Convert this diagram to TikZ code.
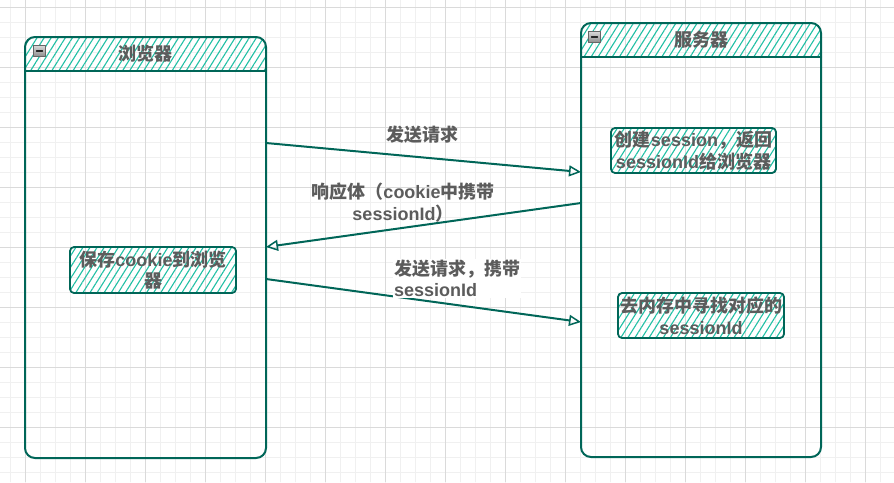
\documentclass[tikz,border=0pt]{standalone}
\usepackage{fontspec}
\setmainfont{Liberation Sans}
\newfontfamily\cjk{Noto Sans CJK SC}
\usetikzlibrary{arrows.meta,patterns.meta}
\definecolor{laneStroke}{HTML}{006658}
\definecolor{laneHatch}{HTML}{21C0A5}
\definecolor{labelText}{HTML}{5C5C5C}
\definecolor{gridMajor}{HTML}{DADADA}
\definecolor{gridMinor}{HTML}{F0F0F0}
\newcommand{\zh}[1]{{\cjk #1}}

\begin{document}
\begin{tikzpicture}[x=1pt, y=-1pt, line cap=round, line join=round,
  lane/.style={draw=laneStroke, line width=2pt, rounded corners=10pt,
    inner sep=0pt, outer sep=0pt},
  hatch/.style={pattern={Lines[angle=58,distance=6pt,line width=1.1pt]},
    pattern color=laneHatch},
  taskBox/.style={hatch, draw=laneStroke, line width=1.8pt, rounded corners=4pt,
    align=center, inner sep=0pt, text=labelText, font=\sessFont},
  msgText/.style={text=labelText, font=\sessFont, inner sep=1pt},
  msgArrow/.style={draw=laneStroke, line width=2pt,
    -{Triangle[open, length=12pt, width=11pt, line width=1.5pt]}},
  foldBox/.style={draw=black!60, top color=black!15, bottom color=black!45,
    minimum width=12pt, minimum height=11pt, inner sep=0pt,
    path picture={\draw[black!85, line width=1.3pt]
      ([xshift=3pt]path picture bounding box.west) --
      ([xshift=-3pt]path picture bounding box.east);}}]
\providecommand{\sessFont}{\bfseries\fontsize{18}{21.6}\selectfont}
\useasboundingbox (0,0) rectangle (894,482);
% Background and grid
\fill[white] (0,0) rectangle (894,482);
\foreach \gx in {10,25,...,894} \draw[gridMinor, line width=0.8pt] (\gx,0) -- (\gx,482);
\foreach \gy in {7,22,...,482} \draw[gridMinor, line width=0.8pt] (0,\gy) -- (894,\gy);
\foreach \gx in {25,85,...,894} \draw[gridMajor, line width=0.8pt] (\gx,0) -- (\gx,482);
\foreach \gy in {7,67,...,482} \draw[gridMajor, line width=0.8pt] (0,\gy) -- (894,\gy);

% Lane headers (hatched, clipped to the rounded frame)
\begin{scope}
  \clip[rounded corners=10pt] (25,37) rectangle (266,458);
  \fill[hatch] (25,37) rectangle (266,71);
\end{scope}
\begin{scope}
  \clip[rounded corners=10pt] (581,23) rectangle (821,457);
  \fill[hatch] (581,23) rectangle (821,57);
\end{scope}

% Lanes
\node[lane, minimum width=241pt, minimum height=421pt] (browser) at (145.5,247.5) {};
\node[lane, minimum width=240pt, minimum height=434pt] (server) at (701,240) {};
\draw[laneStroke, line width=2pt] (browser.west |- 0,71) -- (browser.east |- 0,71);
\draw[laneStroke, line width=2pt] (server.west |- 0,57) -- (server.east |- 0,57);
\node[foldBox] (browserFold) at (39.5,51) {};
\node[foldBox] (serverFold) at (594.5,37) {};
\node[msgText] (browserTitle) at (145.5,54) {\zh{浏览器}};
\node[msgText] (serverTitle) at (701,40) {\zh{服务器}};

% Steps inside the lanes
\node[taskBox, minimum width=165pt, minimum height=45pt] (createSess) at (693.5,150.5)
  {\zh{创建}session\zh{，返回}\\sessionId\zh{给浏览器}};
\node[taskBox, minimum width=166pt, minimum height=46pt] (saveCookie) at (153,270)
  {\zh{保存}cookie\zh{到浏览}\\\zh{器}};
\node[taskBox, minimum width=166pt, minimum height=45pt] (findSess) at (701,315.5)
  {\zh{去内存中寻找对应的}\\sessionId};

% Messages
\draw[msgArrow] (browser.east |- 0,143) -- (server.west |- 0,172);
\draw[msgArrow] (server.west |- 0,203) -- (browser.east |- 0,247);
\draw[msgArrow] (browser.east |- 0,279) -- (server.west |- 0,322);
\node[msgText] (reqLabel) at (422,135) {\zh{发送请求}};
\node[msgText, align=center] (respLabel) at (403,202.5)
  {\zh{响应体（}cookie\zh{中携带}\\sessionId\zh{）}};
\node[msgText, align=left, anchor=west, fill=white] (reqIdLabel) at (393,278.5)
  {\zh{发送请求，携带}\\sessionId};
\end{tikzpicture}
\end{document}
